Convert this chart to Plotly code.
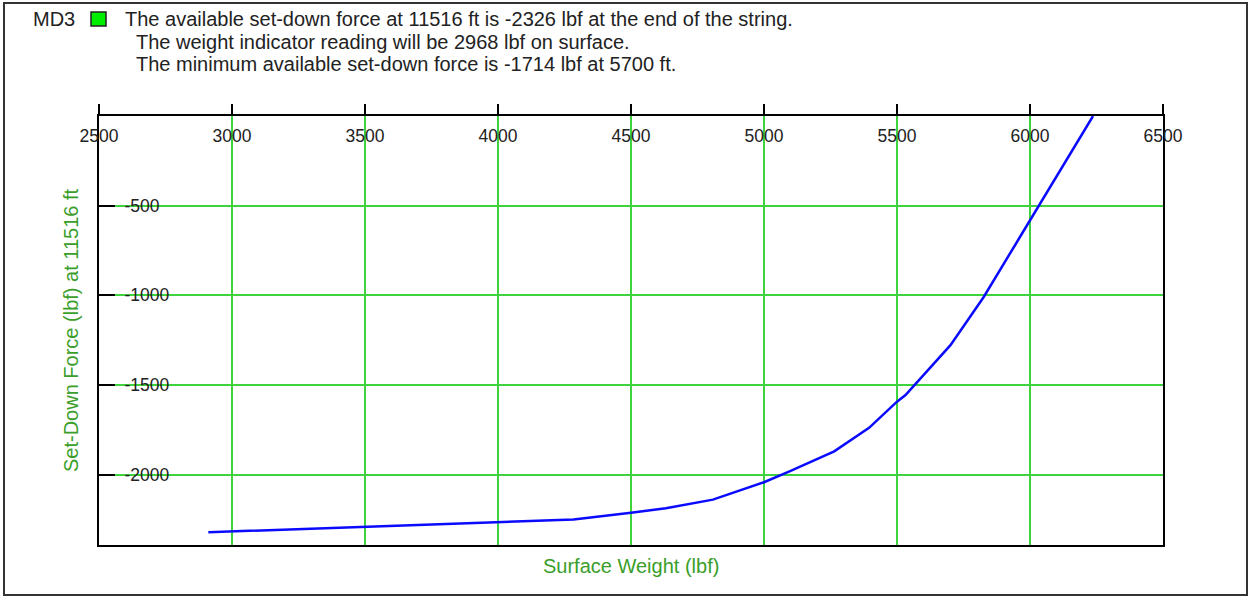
import plotly.graph_objects as go

# Data
surface_weight = [2911, 3497, 4000, 4284, 4500, 4631, 4808, 5000, 5098, 5264, 5395, 5500, 5532, 5701, 5826, 6000, 6237]
set_down_force = [-2321, -2290, -2266, -2250, -2212, -2187, -2139, -2042, -1980, -1870, -1739, -1593, -1556, -1278, -1009, -585, 0]

x_ticks = [2500, 3000, 3500, 4000, 4500, 5000, 5500, 6000, 6500]
y_ticks = [-500, -1000, -1500, -2000]
y_tick_text = ["-500", "-1000", "-1500", "-2000"]

header_lines = [
    "The available set-down force at 11516 ft is -2326 lbf at the end of the string.",
    "The weight indicator reading will be 2968 lbf on surface.",
    "The minimum available set-down force is -1714 lbf at 5700 ft.",
]
series_name = "MD3"
x_title = "Surface Weight (lbf)"
y_title = "Set-Down Force (lbf) at 11516 ft"

W, H = 1250, 597
L, R, T, B = 99, 1163, 116, 545
PW, PH = R - L, B - T


def px(x):
    return (x - L) / PW


def py(y):
    return (B - y) / PH


FONT = "Liberation Sans, Arial, sans-serif"
GRID = "#3fd23f"
TITLE_GREEN = "#3a9e2a"
TXT = "#222222"
HFS = 20
TFS = 17.5

fig = go.Figure()
fig.add_trace(go.Scatter(x=surface_weight, y=set_down_force, mode="lines",
                         line=dict(color="#0a0aff", width=2.5), showlegend=False,
                         cliponaxis=True))

fig.update_layout(
    width=W, height=H,
    margin=dict(l=L, r=W - R, t=T, b=H - B, autoexpand=False),
    paper_bgcolor="white", plot_bgcolor="white",
    font=dict(family=FONT, size=TFS, color=TXT),
    showlegend=False,
)

fig.update_xaxes(
    range=[2500, 6500], side="top", tickvals=x_ticks,
    ticks="outside", ticklen=10, tickwidth=2, tickcolor="black",
    ticklabelposition="inside", ticklabelstandoff=14, ticklabeloverflow="allow",
    showline=True, mirror=True, linecolor="black", linewidth=2,
    showgrid=True, gridcolor=GRID, gridwidth=1.5,
    zeroline=False, tickfont=dict(size=TFS, color=TXT),
)
fig.update_yaxes(
    range=[-2392, 0], tickvals=y_ticks, ticktext=y_tick_text,
    ticks="inside", ticklen=16, tickwidth=2, tickcolor="black",
    ticklabelposition="inside", ticklabelstandoff=10, ticklabeloverflow="allow",
    showline=True, mirror=True, linecolor="black", linewidth=2,
    showgrid=True, gridcolor=GRID, gridwidth=1.5,
    zeroline=False, tickfont=dict(size=TFS, color=TXT),
)

shapes = [
    # outer frame
    dict(type="rect", xref="paper", yref="paper",
         x0=px(4), x1=px(1247), y0=py(595), y1=py(3),
         line=dict(color="#333333", width=2), fillcolor="rgba(0,0,0,0)", layer="above"),
    # legend swatch
    dict(type="rect", xref="paper", yref="paper",
         x0=px(91), x1=px(106), y0=py(26), y1=py(12),
         line=dict(color="#222222", width=1.5), fillcolor="#00ee00"),
]

annotations = [
    dict(text=series_name, xref="paper", yref="paper", x=px(31), y=py(19),
         xanchor="left", yanchor="middle", showarrow=False,
         font=dict(size=HFS, color=TXT)),
    dict(text=header_lines[0], xref="paper", yref="paper", x=px(123), y=py(19),
         xanchor="left", yanchor="middle", showarrow=False,
         font=dict(size=HFS, color=TXT)),
    dict(text=header_lines[1], xref="paper", yref="paper", x=px(134), y=py(42),
         xanchor="left", yanchor="middle", showarrow=False,
         font=dict(size=HFS, color=TXT)),
    dict(text=header_lines[2], xref="paper", yref="paper", x=px(134), y=py(64),
         xanchor="left", yanchor="middle", showarrow=False,
         font=dict(size=HFS, color=TXT)),
    dict(text=x_title, xref="paper", yref="paper", x=px(631), y=py(566),
         xanchor="center", yanchor="middle", showarrow=False,
         font=dict(size=HFS, color=TITLE_GREEN)),
    dict(text=y_title, xref="paper", yref="paper", x=px(71), y=py(330),
         xanchor="center", yanchor="middle", showarrow=False, textangle=-90,
         font=dict(size=HFS, color=TITLE_GREEN)),
]

fig.update_layout(shapes=shapes, annotations=annotations)
fig.write_html("out.html", config={"displayModeBar": False},
               post_script="document.body.style.margin='0';document.body.style.padding='0';")
